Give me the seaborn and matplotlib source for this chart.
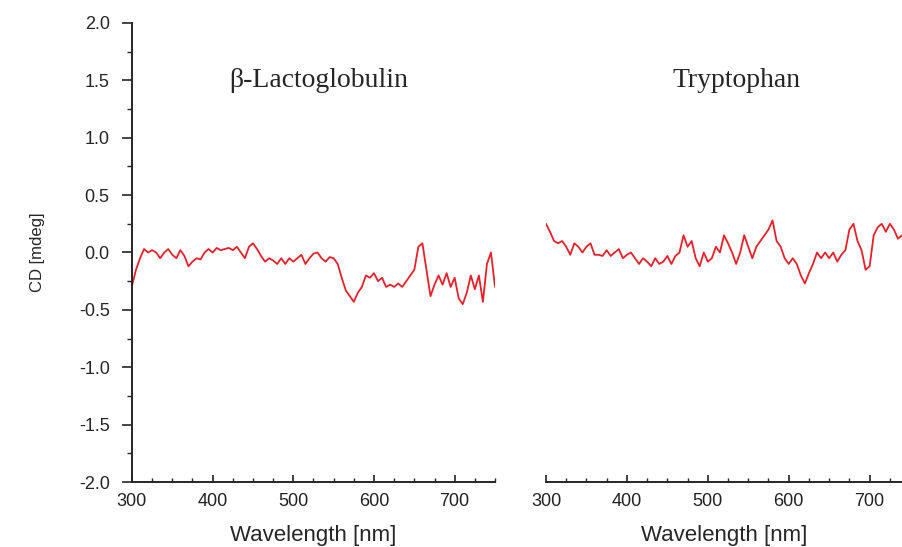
import numpy as np
import pandas as pd
import matplotlib.pyplot as plt
import seaborn as sns
from matplotlib.ticker import MultipleLocator, FormatStrFormatter

# CD spectra, 5 nm steps
wl_lacto = list(range(300, 755, 5))
cd_lacto = [-0.29, -0.15, -0.05, 0.03, 0.00, 0.02, 0.00, -0.05, 0.00, 0.03,
            -0.02, -0.05, 0.02, -0.03, -0.12, -0.08, -0.05, -0.06, 0.00, 0.03,
            0.00, 0.04, 0.02, 0.03, 0.04, 0.02, 0.05, 0.00, -0.05, 0.05,
            0.08, 0.03, -0.03, -0.08, -0.05, -0.07, -0.10, -0.05, -0.10, -0.05,
            -0.08, -0.05, -0.02, -0.10, -0.05, -0.01, 0.00, -0.05, -0.08, -0.04,
            -0.05, -0.10, -0.22, -0.33, -0.38, -0.43, -0.35, -0.30, -0.20, -0.22,
            -0.18, -0.25, -0.22, -0.30, -0.28, -0.30, -0.27, -0.30, -0.25, -0.20,
            -0.15, 0.05, 0.08, -0.15, -0.38, -0.28, -0.20, -0.28, -0.18, -0.30,
            -0.22, -0.40, -0.45, -0.35, -0.20, -0.32, -0.20, -0.43, -0.10, 0.00,
            -0.30]

wl_trp = list(range(300, 745, 5))
cd_trp = [0.25, 0.18, 0.10, 0.08, 0.10, 0.05, -0.02, 0.08, 0.05, 0.00,
          0.05, 0.08, -0.02, -0.02, -0.03, 0.02, -0.03, 0.00, 0.03, -0.05,
          -0.02, 0.00, -0.05, -0.10, -0.05, -0.08, -0.12, -0.05, -0.10, -0.08,
          -0.03, -0.10, -0.03, 0.00, 0.15, 0.05, 0.10, -0.05, -0.12, 0.00,
          -0.08, -0.05, 0.05, 0.00, 0.15, 0.08, 0.00, -0.10, 0.00, 0.15,
          0.05, -0.05, 0.05, 0.10, 0.15, 0.20, 0.28, 0.10, 0.05, -0.05,
          -0.10, -0.05, -0.10, -0.20, -0.27, -0.18, -0.10, 0.00, -0.05, 0.00,
          -0.05, 0.00, -0.08, -0.02, 0.02, 0.20, 0.25, 0.10, 0.02, -0.15,
          -0.12, 0.15, 0.22, 0.25, 0.18, 0.25, 0.20, 0.12, 0.15]

sns.set_style("ticks")
plt.rcParams['font.family'] = ['Liberation Sans', 'DejaVu Sans']
plt.rcParams['axes.unicode_minus'] = False

fig = plt.figure(figsize=(9.02, 5.47), dpi=100)
ax1 = fig.add_axes([0.1463, 0.1188, 0.4025, 0.8392])
ax2 = fig.add_axes([0.6053, 0.1188, 0.3947, 0.8392])

df1 = pd.DataFrame({"wl": wl_lacto, "cd": cd_lacto})
df2 = pd.DataFrame({"wl": wl_trp, "cd": cd_trp})
sns.lineplot(data=df1, x="wl", y="cd", ax=ax1, color="#e8202a", linewidth=1.3)
sns.lineplot(data=df2, x="wl", y="cd", ax=ax2, color="#e8202a", linewidth=1.3)

for ax, xmax in [(ax1, 750), (ax2, 740)]:
    ax.set_xlim(300, xmax)
    ax.set_ylim(-2.0, 2.0)
    ax.spines["top"].set_visible(False)
    ax.spines["right"].set_visible(False)
    ax.xaxis.set_major_locator(MultipleLocator(100))
    ax.xaxis.set_minor_locator(MultipleLocator(25))
    ax.tick_params(axis="x", which="major", direction="in", length=5, width=1.2,
                   labelsize=13, pad=8, colors="#222222")
    ax.tick_params(axis="x", which="minor", direction="in", length=3, width=1.0)
    ax.set_xlabel("Wavelength [nm]", fontsize=16, labelpad=11)
    ax.spines["bottom"].set_linewidth(1.4)

ax1.yaxis.set_major_locator(MultipleLocator(0.5))
ax1.yaxis.set_minor_locator(MultipleLocator(0.25))
ax1.yaxis.set_major_formatter(FormatStrFormatter("%.1f"))
ax1.tick_params(axis="y", which="major", direction="out", length=7, width=1.2,
                labelsize=13, pad=9)
ax1.tick_params(axis="y", which="minor", direction="out", length=3.5, width=1.0)
ax1.spines["left"].set_linewidth(1.4)
ax1.set_ylabel("CD [mdeg]", fontsize=12)
ax1.yaxis.set_label_coords(-0.24, 0.5)

ax2.spines["left"].set_visible(False)
ax2.set_yticks([])
ax2.set_ylabel("")

ax1.text(532, 1.5, "\u03b2-Lactoglobulin", fontsize=20, ha="center", va="center",
         family=["Liberation Serif", "DejaVu Serif"])
ax2.text(536, 1.5, "Tryptophan", fontsize=20, ha="center", va="center",
         family=["Liberation Serif", "DejaVu Serif"])

fig.savefig("out.png", dpi=100)
